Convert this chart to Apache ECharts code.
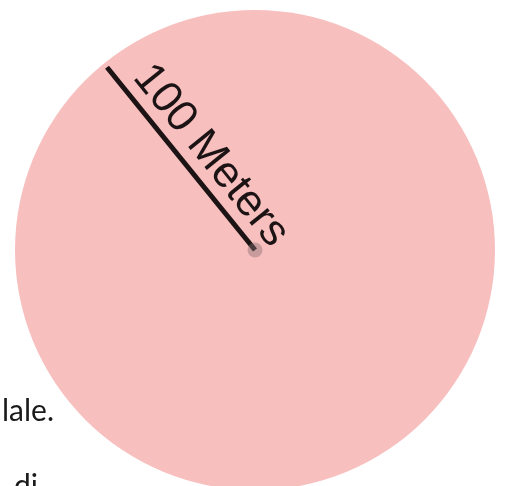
<!DOCTYPE html>
<html>
<head>
<meta charset="utf-8">
<script src="https://cdn.jsdelivr.net/npm/echarts@6/dist/echarts.min.js"></script>
<style>
html,body{margin:0;padding:0;background:#fff;}
#c{width:505px;height:486px;}
</style>
</head>
<body>
<div id="c"></div>
<script>
// data
const areaRadiusMeters = [100];
const scaleLabel = ["100 Meters"];
const scaleAngleDeg = [129];       // direction of the scale bar (math convention)
const scaleLength = [98];          // drawn length of the bar, meters
const sideTexts = ["lale.", "di"];

const chart = echarts.init(document.getElementById('c'), null, {renderer: 'canvas'});
const CX = 255, CY = 250, R = 240;

const option = {
  backgroundColor: '#ffffff',
  animation: false,
  polar: { center: [CX, CY], radius: R },
  angleAxis: { type: 'value', min: 0, max: 360, startAngle: 0, clockwise: false, show: false },
  radiusAxis: { type: 'value', min: 0, max: areaRadiusMeters[0], show: false },
  series: [
    {
      type: 'pie', silent: true, center: [CX, CY], radius: [0, R],
      label: { show: false }, labelLine: { show: false },
      itemStyle: { color: '#f8bfbf' },
      data: [{ name: 'area', value: areaRadiusMeters[0] }],
      z: 1
    },
    {
      type: 'line', coordinateSystem: 'polar', silent: true,
      symbol: 'none',
      lineStyle: { color: '#1c1414', width: 5, cap: 'butt' },
      data: [[scaleLength[0], scaleAngleDeg[0]], [0, scaleAngleDeg[0]]],
      z: 3
    },
    {
      type: 'scatter', coordinateSystem: 'polar', silent: true,
      symbolSize: 15,
      itemStyle: { color: 'rgba(140,110,112,0.55)' },
      data: [[0, 0]],
      z: 4
    }
  ]
};
chart.setOption(option);

// place the scale label along the bar
const p0 = chart.convertToPixel({ polarIndex: 0 }, [0, 0]);
const p1 = chart.convertToPixel({ polarIndex: 0 }, [scaleLength[0], scaleAngleDeg[0]]);
const dx = p0[0] - p1[0], dy = p0[1] - p1[1];
const len = Math.sqrt(dx * dx + dy * dy);
const ux = dx / len, uy = dy / len;
const nx = uy, ny = -ux; // normal toward upper-right
const along = 134, off = 3;
const tx = p1[0] + ux * along + nx * off;
const ty = p1[1] + uy * along + ny * off;
const rot = -Math.atan2(dy, dx);

chart.setOption({
  graphic: [
    {
      type: 'text', x: tx, y: ty, rotation: rot, z: 10, silent: true,
      style: {
        text: scaleLabel[0], fontSize: 44, fontFamily: "'Liberation Sans', Arial, sans-serif",
        fill: '#1c1414', align: 'center', verticalAlign: 'bottom'
      }
    },
    {
      type: 'text', x: 2, y: 396, z: 10, silent: true,
      style: { text: sideTexts[0], fontSize: 30, fontFamily: "Lato, 'Open Sans', sans-serif", fill: '#1a1a1a', verticalAlign: 'top' }
    },
    {
      type: 'text', x: 14, y: 471, z: 10, silent: true,
      style: { text: sideTexts[1], fontSize: 30, fontFamily: "Lato, 'Open Sans', sans-serif", fill: '#1a1a1a', verticalAlign: 'top' }
    }
  ]
});
</script>
</body>
</html>
